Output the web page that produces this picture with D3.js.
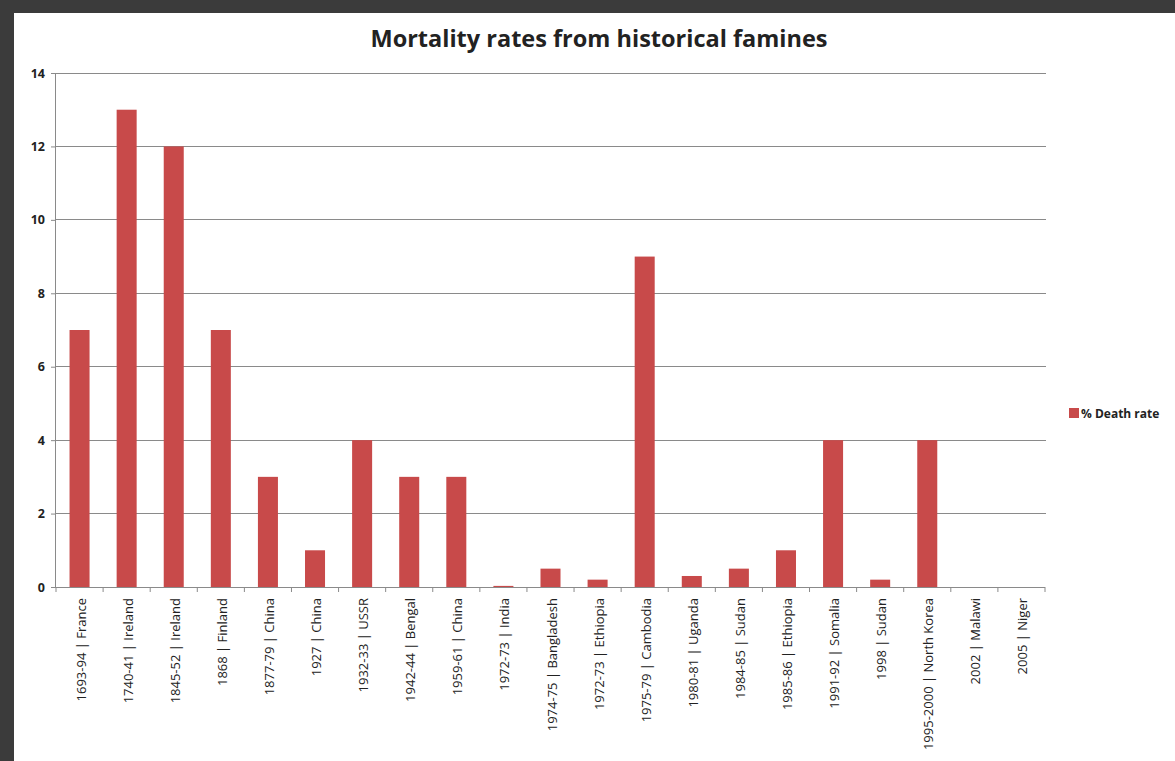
<!DOCTYPE html>
<html>
<head>
<meta charset="utf-8">
<script src="https://cdn.jsdelivr.net/npm/d3@7"></script>
<style>
  html, body { margin: 0; padding: 0; background: #3b3b3b; }
  svg { display: block; }
</style>
</head>
<body>
<svg id="chart" width="1175" height="761"></svg>
<script>
const categories = [
  "1693-94 | France", "1740-41 | Ireland", "1845-52 | Ireland", "1868 | Finland",
  "1877-79 | China", "1927 | China", "1932-33 | USSR", "1942-44 | Bengal",
  "1959-61 | China", "1972-73 | India", "1974-75 | Bangladesh", "1972-73 | Ethiopia",
  "1975-79 | Cambodia", "1980-81 | Uganda", "1984-85 | Sudan", "1985-86 | Ethiopia",
  "1991-92 | Somalia", "1998 | Sudan", "1995-2000 | North Korea", "2002 | Malawi",
  "2005 | Niger"
];
const deathRate = [7, 13, 12, 7, 3, 1, 4, 3, 3, 0.03, 0.5, 0.2, 9, 0.3, 0.5, 1, 4, 0.2, 4, 0, 0];
const yTicks = [0, 2, 4, 6, 8, 10, 12, 14];
const seriesName = "% Death rate";
const title = "Mortality rates from historical famines";

const svg = d3.select("#chart");
// white chart area inside dark frame
svg.append("rect").attr("x", 14).attr("y", 13).attr("width", 1161).attr("height", 748).attr("fill", "#ffffff");

const pLeft = 56, pRight = 1045, pTop = 73, pBottom = 587;
const x = d3.scaleBand().domain(categories).range([pLeft, pRight]).paddingInner(0.575).paddingOuter(0.2875);
const y = d3.scaleLinear().domain([0, 14]).range([pBottom, pTop]);

const font = "'Open Sans', 'Liberation Sans', sans-serif";

// gridlines
svg.append("g").selectAll("line").data(yTicks.filter(d => d > 0)).join("line")
  .attr("x1", pLeft).attr("x2", pRight + 1)
  .attr("y1", d => y(d)).attr("y2", d => y(d))
  .attr("stroke", "#8a8a8a").attr("stroke-width", 1).attr("shape-rendering", "crispEdges");

// bars
svg.append("g").selectAll("rect").data(deathRate).join("rect")
  .attr("x", (d, i) => x(categories[i]))
  .attr("width", x.bandwidth())
  .attr("y", d => y(d))
  .attr("height", d => pBottom - y(d))
  .attr("fill", "#c84a4a");

// y axis
const yAxis = d3.axisLeft(y).tickValues(yTicks).tickSize(5).tickPadding(6).tickFormat(d3.format("d"));
const gy = svg.append("g").attr("transform", `translate(${pLeft},0)`).call(yAxis);
gy.select(".domain").attr("stroke", "#8a8a8a").attr("d", `M-0.5,${pTop}V${pBottom}`);
gy.selectAll(".tick line").attr("stroke", "#8a8a8a");
gy.selectAll(".tick text").attr("font-family", font).attr("font-size", 12.5).attr("font-weight", "bold").attr("fill", "#222");

// x axis: ticks at band boundaries
const boundaries = d3.range(categories.length + 1).map(i => pLeft + i * (pRight - pLeft) / categories.length);
const gx = svg.append("g");
gx.append("line").attr("x1", pLeft).attr("x2", pRight).attr("y1", pBottom + 0.5).attr("y2", pBottom + 0.5)
  .attr("stroke", "#8a8a8a");
gx.selectAll("line.tk").data(boundaries).join("line").attr("class", "tk")
  .attr("x1", d => d).attr("x2", d => d).attr("y1", pBottom).attr("y2", pBottom + 5)
  .attr("stroke", "#8a8a8a");
gx.selectAll("text").data(categories).join("text")
  .attr("transform", d => `translate(${x(d) + x.bandwidth() / 2 + 6},${pBottom + 11}) rotate(-90)`)
  .attr("text-anchor", "end")
  .attr("font-family", font).attr("font-size", 13).attr("fill", "#222")
  .text(d => d);

// title
svg.append("text").attr("x", 599).attr("y", 47).attr("text-anchor", "middle")
  .attr("font-family", font).attr("font-size", 23.5).attr("font-weight", "bold").attr("fill", "#222")
  .text(title);

// legend
svg.append("rect").attr("x", 1069).attr("y", 408).attr("width", 10).attr("height", 10).attr("fill", "#c84a4a");
svg.append("text").attr("x", 1081).attr("y", 418)
  .attr("font-family", font).attr("font-size", 12).attr("font-weight", "bold").attr("fill", "#222")
  .text(seriesName);
</script>
</body>
</html>
